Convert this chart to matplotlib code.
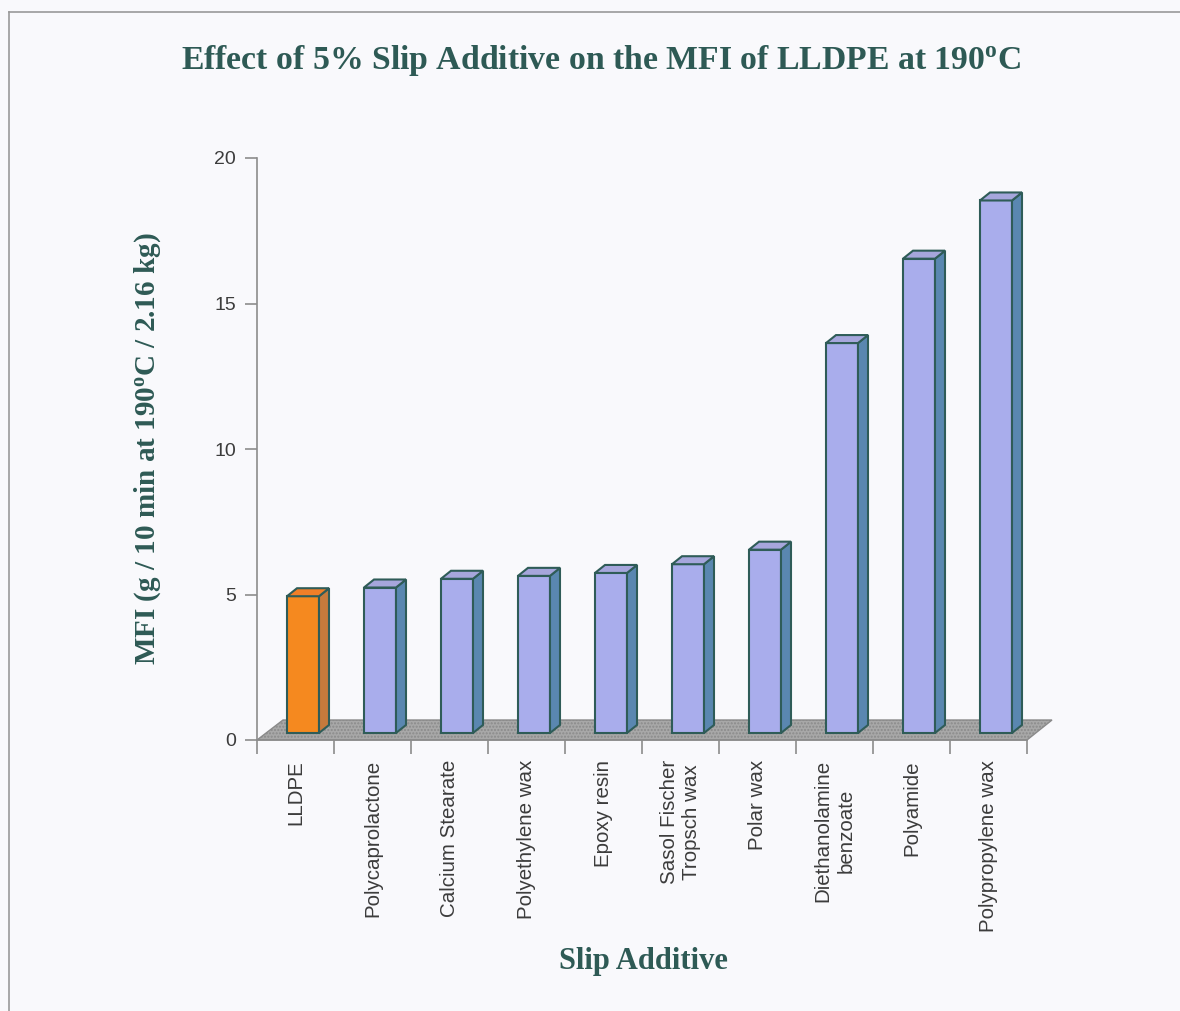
import numpy as np
import matplotlib
matplotlib.use('Agg')
from matplotlib import pyplot as plt
from matplotlib.patches import Polygon, Rectangle

categories = ['LLDPE', 'Polycaprolactone', 'Calcium Stearate', 'Polyethylene wax',
              'Epoxy resin', 'Sasol Fischer\nTropsch wax', 'Polar wax',
              'Diethanolamine\nbenzoate', 'Polyamide', 'Polypropylene wax']
mfi = [4.7, 5.0, 5.3, 5.4, 5.5, 5.8, 6.3, 13.4, 16.3, 18.3]
yticks = [0, 5, 10, 15, 20]

plt.rcParams['mathtext.default'] = 'regular'
plt.rcParams['hatch.color'] = '#999999'

W, H = 1180, 1011
fig = plt.figure(figsize=(W / 100, H / 100), dpi=100)
fig.patch.set_facecolor('#f9f9fc')

# frame line (top + left) like the scanned page
fig.add_artist(plt.Line2D([9 / W, 1], [1 - 12 / H, 1 - 12 / H], color='#9a9a9a', lw=1.2))
fig.add_artist(plt.Line2D([9 / W, 9 / W], [0, 1 - 12 / H], color='#9a9a9a', lw=1.2))

x0, x1, ytop, ybot = 257, 1027, 158, 740
ax = fig.add_axes([x0 / W, 1 - ybot / H, (x1 - x0) / W, (ybot - ytop) / H])
ax.set_facecolor('none')
ax.set_xlim(-0.5, len(categories) - 0.5)
ax.set_ylim(0, 20)

px_x = len(categories) / (x1 - x0)   # data units per pixel
px_y = 20 / (ybot - ytop)

# floor
fdx1, fdx2, fdy = 26 * px_x, 25 * px_x, 20 * px_y
floor = Polygon([(-0.5, 0), (len(categories) - 0.5, 0),
                 (len(categories) - 0.5 + fdx2, fdy), (-0.5 + fdx1, fdy)],
                closed=True, facecolor='#a8a8a8', edgecolor='#8a8a8a', lw=1,
                hatch='.....', clip_on=False, zorder=1)
ax.add_patch(floor)

edge = '#2f5c58'
base = 7 * px_y
off = 30 * px_x
bw = 32 * px_x
dx, dy = 10 * px_x, 8 * px_y
for i, v in enumerate(mfi):
    if i == 0:
        fc, sc, tc = '#f5891f', '#c67a3c', '#f07f28'
    else:
        fc, sc, tc = '#a9adec', '#5a87b0', '#a6a6dc'
    left = i - 0.5 + off
    top = base + v
    ax.add_patch(Rectangle((left, base), bw, v, facecolor=fc, edgecolor=edge,
                           lw=1.5, zorder=3, clip_on=False))
    ax.add_patch(Polygon([(left + bw, base), (left + bw + dx, base + dy),
                          (left + bw + dx, top + dy), (left + bw, top)],
                         closed=True, facecolor=sc, edgecolor=edge, lw=1.5,
                         zorder=3, clip_on=False))
    ax.add_patch(Polygon([(left, top), (left + bw, top), (left + bw + dx, top + dy),
                          (left + dx, top + dy)],
                         closed=True, facecolor=tc, edgecolor=edge, lw=1.5,
                         zorder=3, clip_on=False))

for s in ['top', 'right']:
    ax.spines[s].set_visible(False)
for s in ['left', 'bottom']:
    ax.spines[s].set_color('#8c8c8c')
    ax.spines[s].set_linewidth(1.2)

ax.set_yticks(yticks)
ax.tick_params(axis='y', direction='out', length=9, width=1.2, color='#8c8c8c',
               labelsize=14, labelcolor='#3c3c3c', pad=6)
ax.set_xticks(np.arange(len(categories)))
ax.set_xticklabels(categories, rotation=90, fontsize=14.8, color='#3c3c3c',
                   va='top', ha='center', linespacing=1.25)
ax.set_xticks(np.arange(len(categories) + 1) - 0.5, minor=True)
ax.tick_params(axis='x', which='major', length=0, pad=14.5)
ax.tick_params(axis='x', which='minor', direction='out', length=10, width=1.2,
               color='#8c8c8c')
for lab in ax.get_yticklabels() + ax.get_xticklabels():
    lab.set_family('Liberation Sans')

tcol = '#2e5a55'
fig.text(601 / W, 1 - 69 / H, r'Effect of 5% Slip Additive on the MFI of LLDPE at 190$^{o}$C',
         ha='center', va='baseline', fontsize=24.3, fontweight='bold',
         family='Liberation Serif', color=tcol)
fig.text(148 / W, 1 - 449 / H, r'MFI (g / 10 min at 190$^{o}$C / 2.16 kg)',
         ha='center', va='center', rotation=90, fontsize=21, fontweight='bold',
         family='Liberation Serif', color=tcol)
fig.text(643 / W, 1 - 969 / H, 'Slip Additive', ha='center', va='baseline',
         fontsize=22, fontweight='bold', family='Liberation Serif', color=tcol)

fig.savefig('out.png', dpi=100, facecolor=fig.get_facecolor())
